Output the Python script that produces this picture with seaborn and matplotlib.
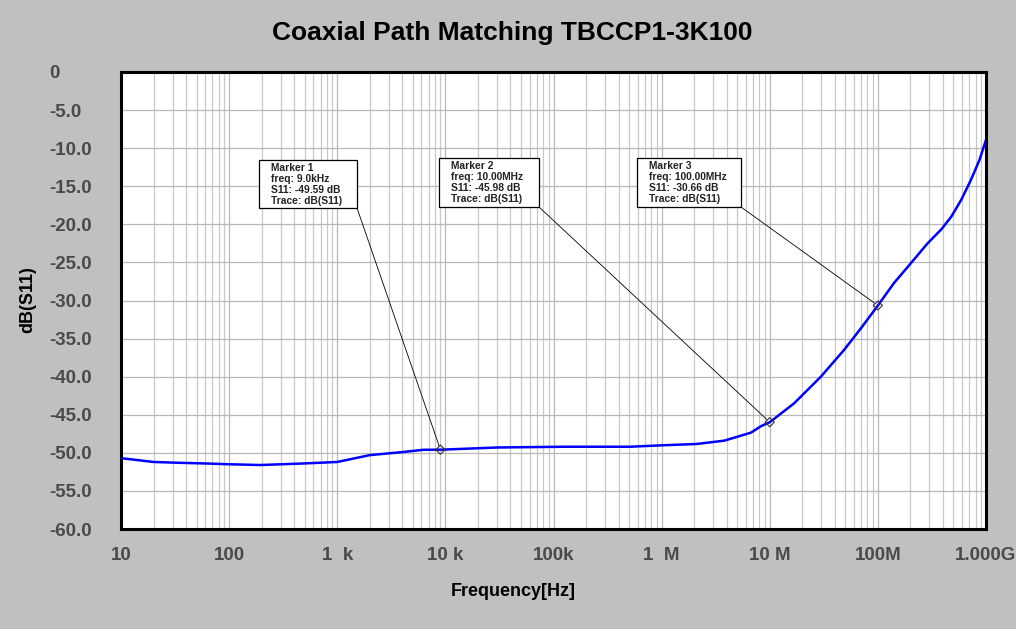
import matplotlib
matplotlib.use("Agg")
import matplotlib.pyplot as plt
import matplotlib.ticker as mticker
from matplotlib.patches import Rectangle
import seaborn as sns
import pandas as pd
import numpy as np

# ---- data ----
freq_hz = [10, 20, 33, 62, 100, 194, 480, 1000, 2000, 4000, 6300, 9000, 30000, 123000,
           513000, 1.05e6, 2.1e6, 3.8e6, 5.7e6, 6.7e6, 8.3e6, 1e7, 1.68e7, 2.97e7,
           4.86e7, 6.97e7, 1e8, 1.41e8, 2.02e8, 2.88e8, 3.84e8, 4.77e8, 5.89e8,
           7.24e8, 8.7e8, 1e9]
s11_db = [-50.7, -51.2, -51.3, -51.4, -51.5, -51.6, -51.4, -51.2, -50.3, -49.9, -49.6,
          -49.59, -49.3, -49.2, -49.2, -49.0, -48.84, -48.4, -47.65, -47.35, -46.5,
          -45.98, -43.5, -40.0, -36.5, -33.65, -30.66, -27.7, -25.1, -22.5, -20.7,
          -19.0, -16.8, -14.2, -11.55, -8.9]

marker_names = ["Marker 1", "Marker 2", "Marker 3"]
marker_freq = [9.0e3, 10.0e6, 100.0e6]
marker_freq_text = ["9.0kHz", "10.00MHz", "100.00MHz"]
marker_s11 = [-49.59, -45.98, -30.66]

x_tick_vals = [1e1, 1e2, 1e3, 1e4, 1e5, 1e6, 1e7, 1e8, 1e9]
x_tick_labels = ["10", "100", "1  k", "10 k", "100k", "1  M", "10 M", "100M", "1.000G"]
y_tick_vals = [0, -5, -10, -15, -20, -25, -30, -35, -40, -45, -50, -55, -60]
y_tick_labels = ["0"] + [f"{v:.1f}" for v in y_tick_vals[1:]]

title = "Coaxial Path Matching TBCCP1-3K100"
xlabel = "Frequency[Hz]"
ylabel = "dB(S11)"

# ---- figure ----
sns.set_style("white")
plt.rcParams['font.family'] = ['Liberation Sans', 'DejaVu Sans']

W, H = 1016, 629
fig = plt.figure(figsize=(W / 100, H / 100), dpi=100, facecolor="#c0c0c0")
L, R, T, B = 121, 986, 72, 529
ax = fig.add_axes([L / W, 1 - B / H, (R - L) / W, (B - T) / H])
ax.set_facecolor("white")

df = pd.DataFrame({"freq": freq_hz, "s11": s11_db})
sns.lineplot(data=df, x="freq", y="s11", ax=ax, color="#0000ff", lw=1.8, zorder=3)

ax.set_xscale("log")
ax.set_xlim(1e1, 1e9)
ax.set_ylim(-60, 0)

ax.xaxis.set_minor_locator(mticker.LogLocator(base=10, subs=np.arange(2, 10), numticks=100))
ax.xaxis.set_minor_formatter(mticker.NullFormatter())
ax.set_xticks(x_tick_vals)
ax.set_xticklabels(x_tick_labels)
ax.set_yticks(y_tick_vals)
ax.set_yticklabels(y_tick_labels)

ax.grid(True, which="major", axis="both", color="#b8b8b8", lw=0.9, zorder=0)
ax.grid(True, which="minor", axis="x", color="#c8c8c8", lw=0.9, zorder=0)
ax.set_axisbelow(True)

ax.tick_params(axis="both", which="both", length=0)
ax.tick_params(axis="x", pad=13)
ax.tick_params(axis="y", pad=52)
for lab in ax.get_xticklabels() + ax.get_yticklabels():
    lab.set_fontweight("bold")
    lab.set_fontsize(13.5)
    lab.set_color("#4a4a4a")
for lab in ax.get_yticklabels():
    lab.set_horizontalalignment("left")

for sp in ax.spines.values():
    sp.set_visible(True)
    sp.set_color("black")
    sp.set_linewidth(2.2)

ax.set_xlabel("")
ax.set_ylabel("")
fig.text(513 / W, 1 - 591 / H, xlabel, ha="center", va="center",
         fontsize=13, fontweight="bold", color="black")
fig.text(28 / W, 1 - 300 / H, ylabel, ha="center", va="center", rotation=90,
         fontsize=13, fontweight="bold", color="black")
fig.text(512 / W, 1 - 33 / H, title, ha="center", va="center",
         fontsize=19, fontweight="bold", color="black")

# markers
ax.scatter(marker_freq, marker_s11, marker="D", s=22, facecolors="none",
           edgecolors="#333333", linewidths=0.8, zorder=5)

boxes = [(259, 160, 98, 48), (439, 158, 100, 49), (637, 158, 104, 49)]
for (bx, by, bw, bh), name, ft, fv, sv in zip(boxes, marker_names, marker_freq_text,
                                              marker_freq, marker_s11):
    rect = Rectangle((bx / W, 1 - (by + bh) / H), bw / W, bh / H, transform=fig.transFigure,
                     facecolor="white", edgecolor="black", lw=0.9, zorder=6)
    fig.patches.append(rect)
    txt = f"{name}\nfreq: {ft}\nS11: {sv:.2f} dB\nTrace: dB(S11)"
    fig.text((bx + 12) / W, 1 - (by + 3) / H, txt, ha="left", va="top",
             fontsize=7.4, fontweight="bold", color="#222222", linespacing=1.12, zorder=7)
    ax.annotate("", xy=(fv, sv), xycoords="data",
                xytext=(bx + bw, H - (by + bh)), textcoords="figure pixels",
                arrowprops=dict(arrowstyle="-", color="black", lw=0.6,
                                shrinkA=0, shrinkB=3), zorder=4)

fig.savefig("out.png", dpi=100, facecolor=fig.get_facecolor())
